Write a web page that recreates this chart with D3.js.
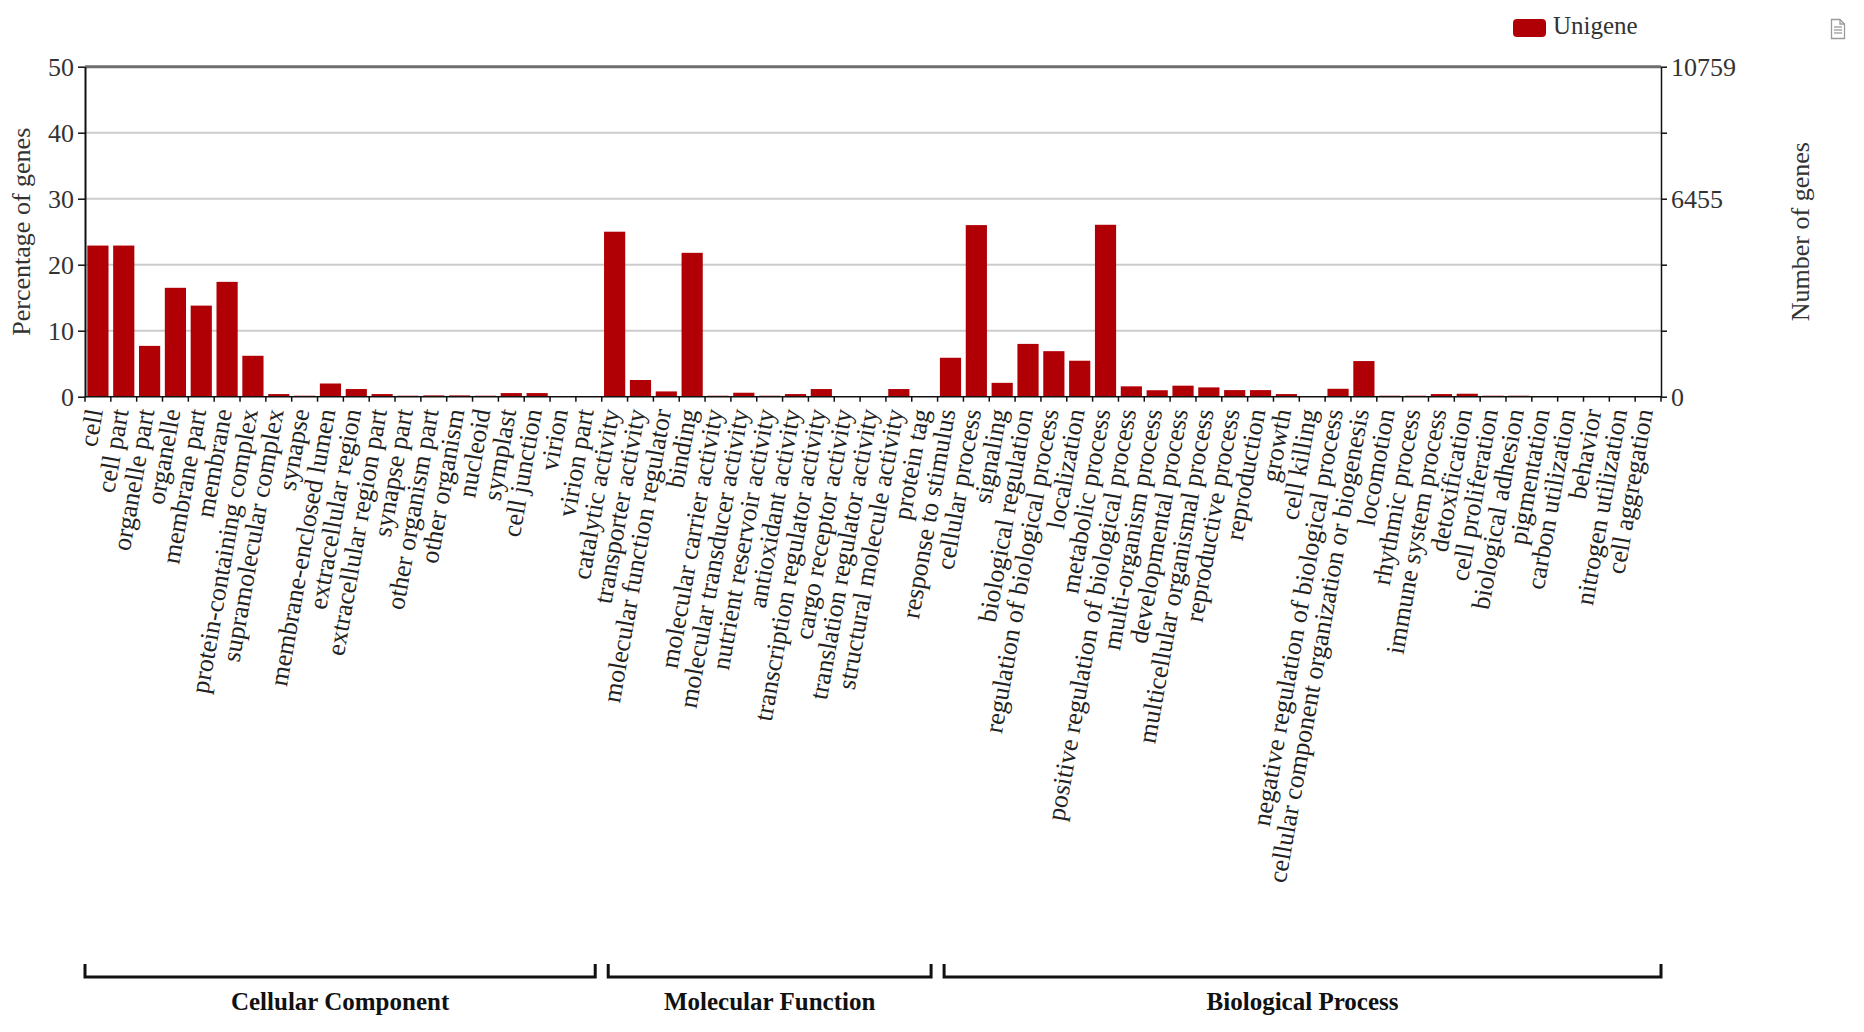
<!DOCTYPE html>
<html>
<head>
<meta charset="utf-8">
<script src="https://cdn.jsdelivr.net/npm/d3@7"></script>
<style>
  html, body { margin: 0; padding: 0; background: #fff; }
  svg { display: block; }
  text { font-family: "Liberation Serif", "Times New Roman", serif; }
</style>
</head>
<body>
<svg id="chart" width="1864" height="1032"></svg>
<script>
// ---------------- data ----------------
const categories = [
  "cell", "cell part", "organelle part", "organelle", "membrane part", "membrane",
  "protein-containing complex", "supramolecular complex", "synapse", "membrane-enclosed lumen",
  "extracellular region", "extracellular region part", "synapse part", "other organism part",
  "other organism", "nucleoid", "symplast", "cell junction", "virion", "virion part",
  "catalytic activity", "transporter activity", "molecular function regulator", "binding",
  "molecular carrier activity", "molecular transducer activity", "nutrient reservoir activity",
  "antioxidant activity", "transcription regulator activity", "cargo receptor activity",
  "translation regulator activity", "structural molecule activity", "protein tag",
  "response to stimulus", "cellular process", "signaling", "biological regulation",
  "regulation of biological process", "localization", "metabolic process",
  "positive regulation of biological process", "multi-organism process", "developmental process",
  "multicellular organismal process", "reproductive process", "reproduction", "growth",
  "cell killing", "negative regulation of biological process",
  "cellular component organization or biogenesis", "locomotion", "rhythmic process",
  "immune system process", "detoxification", "cell proliferation", "biological adhesion",
  "pigmentation", "carbon utilization", "behavior", "nitrogen utilization", "cell aggregation"
];
const percentValues = [
  22.9, 22.9, 7.7, 16.5, 13.8, 17.4,
  6.2, 0.4, 0.15, 2.0,
  1.16, 0.4, 0.15, 0.2,
  0.2, 0.15, 0.55, 0.55, 0.005, 0.005,
  25.0, 2.53, 0.8, 21.8,
  0.15, 0.6, 0.15,
  0.4, 1.16, 0.005,
  0.005, 1.16, 0.005,
  5.9, 26.0, 2.1, 8.0,
  6.9, 5.45, 26.05,
  1.57, 0.98, 1.67,
  1.41, 1.0, 1.0, 0.4,
  0.005, 1.2,
  5.4, 0.15, 0.15,
  0.4, 0.45, 0.15, 0.15,
  0.005, 0.005, 0.005, 0.005, 0.005
];
const groupNames = ["Cellular Component", "Molecular Function", "Biological Process"];
const groupSizes = [20, 13, 28];
const leftTickValues = [0, 10, 20, 30, 40, 50];
const rightTickValues = [0, 2152, 4304, 6455, 8607, 10759];
const rightTickLabels = ["0", "", "", "6455", "", "10759"];
const seriesName = "Unigene";
const leftTitle = "Percentage of genes";
const rightTitle = "Number of genes";

// ---------------- layout ----------------
const svg = d3.select("#chart");
const L = 85, R = 1661, T = 66.7, B = 396.7;
const barColor = "#b00006";
const textColor = "#333";

const x = d3.scaleBand().domain(categories).range([L, R]).paddingInner(0.18).paddingOuter(0.09);
const y = d3.scaleLinear().domain([0, 50]).range([B, T]);
const yR = d3.scaleLinear().domain([0, 10759]).range([B, T]);
const step = x.step();
const slotStart = c => x(c) - (step - x.bandwidth()) / 2;

// gridlines
svg.append("g").selectAll("line").data(leftTickValues.filter(v => v > 0 && v < 50)).join("line")
  .attr("x1", L).attr("x2", R).attr("y1", d => y(d)).attr("y2", d => y(d))
  .attr("stroke", "#cccccc").attr("stroke-width", 2);

// bars
svg.append("g").selectAll("rect").data(categories).join("rect")
  .attr("x", d => x(d))
  .attr("width", x.bandwidth())
  .attr("y", (d, i) => y(percentValues[i]))
  .attr("height", (d, i) => B - y(percentValues[i]))
  .attr("fill", barColor);

// top border line
svg.append("line").attr("x1", L).attr("x2", R).attr("y1", y(50)).attr("y2", y(50))
  .attr("stroke", "#6e6e6e").attr("stroke-width", 3);

// left axis
const leftAxis = svg.append("g").attr("transform", `translate(${L},0)`)
  .call(d3.axisLeft(y).tickValues(leftTickValues).tickSize(7).tickSizeOuter(0).tickPadding(4));
leftAxis.select(".domain").attr("stroke", "#111").attr("stroke-width", 2);
leftAxis.selectAll(".tick line").attr("stroke", "#111").attr("stroke-width", 1.5);
leftAxis.selectAll(".tick text").attr("font-size", 26).attr("fill", textColor)
  .attr("font-family", "'Liberation Serif', 'Times New Roman', serif");

// right axis
const rightAxis = svg.append("g").attr("transform", `translate(${R},0)`)
  .call(d3.axisRight(yR).tickValues(rightTickValues).tickSize(6).tickSizeOuter(0).tickPadding(4)
    .tickFormat((d, i) => rightTickLabels[i]));
rightAxis.select(".domain").attr("stroke", "#111").attr("stroke-width", 1.5);
rightAxis.selectAll(".tick line").attr("stroke", "#111").attr("stroke-width", 1.5);
rightAxis.selectAll(".tick text").attr("font-size", 26).attr("fill", textColor)
  .attr("font-family", "'Liberation Serif', 'Times New Roman', serif");

// bottom axis line + ticks at slot boundaries
svg.append("line").attr("x1", L).attr("x2", R).attr("y1", B).attr("y2", B)
  .attr("stroke", "#111").attr("stroke-width", 1.5);
const boundaries = categories.map(slotStart).concat([R]);
svg.append("g").selectAll("line").data(boundaries).join("line")
  .attr("x1", d => d).attr("x2", d => d).attr("y1", B).attr("y2", B + 5)
  .attr("stroke", "#111").attr("stroke-width", 1.5);

// x labels
svg.append("g").selectAll("text").data(categories).join("text")
  .attr("transform", d => `translate(${x(d) + x.bandwidth() / 2 + 5},${B + 14}) rotate(-80)`)
  .attr("text-anchor", "end")
  .attr("font-size", 26)
  .attr("fill", "#222")
  .text(d => d);

// axis titles
svg.append("text").attr("transform", `translate(30,${(T + B) / 2}) rotate(-90)`)
  .attr("text-anchor", "middle").attr("font-size", 26).attr("fill", textColor).text(leftTitle);
svg.append("text").attr("transform", `translate(1809,${(T + B) / 2}) rotate(-90)`)
  .attr("text-anchor", "middle").attr("font-size", 26).attr("fill", textColor).text(rightTitle);

// group brackets
let startIdx = 0;
const gap = 6.5;
groupNames.forEach((name, gi) => {
  const first = categories[startIdx];
  const last = categories[startIdx + groupSizes[gi] - 1];
  let x1 = slotStart(first), x2 = slotStart(last) + step;
  if (gi > 0) x1 += gap;
  if (gi < groupNames.length - 1) x2 -= gap;
  x1 = Math.max(x1, L - 1); x2 = Math.min(x2, R);
  const yb = 977, yt = 964;
  svg.append("path")
    .attr("d", `M${x1},${yt} V${yb} H${x2} V${yt}`)
    .attr("fill", "none").attr("stroke", "#111").attr("stroke-width", 3);
  svg.append("text").attr("x", (x1 + x2) / 2).attr("y", 1010)
    .attr("text-anchor", "middle").attr("font-size", 25).attr("font-weight", "bold")
    .attr("fill", "#111").text(name);
  startIdx += groupSizes[gi];
});

// legend
svg.append("rect").attr("x", 1513).attr("y", 19).attr("width", 33).attr("height", 18)
  .attr("rx", 4).attr("fill", barColor);
svg.append("text").attr("x", 1553).attr("y", 34).attr("font-size", 25)
  .attr("fill", textColor).text(seriesName);

// export icon (document)
const icon = svg.append("g").attr("transform", "translate(1831,19)")
  .attr("fill", "none").attr("stroke", "#9a9a9a").attr("stroke-width", 1.3);
icon.append("path").attr("d", "M0.5,0.5 H9 L13.5,5 V19.5 H0.5 Z");
icon.append("path").attr("d", "M9,0.5 V5 H13.5");
[8, 11, 14].forEach(v => icon.append("line").attr("x1", 3).attr("x2", 11).attr("y1", v).attr("y2", v));
</script>
</body>
</html>
